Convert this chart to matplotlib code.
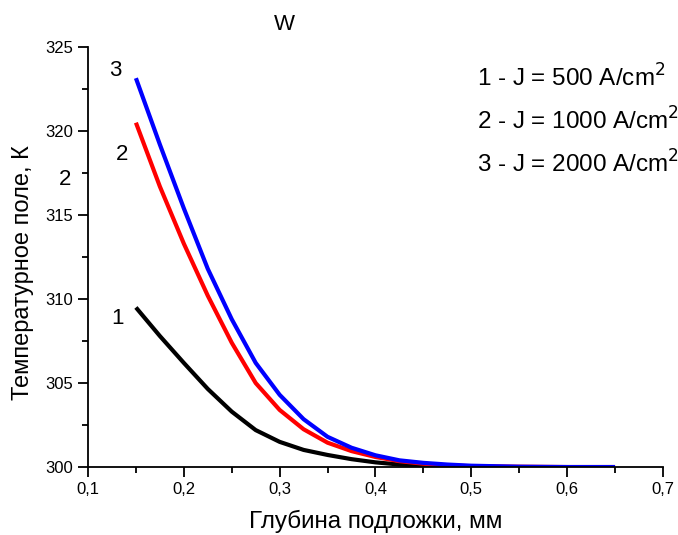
import matplotlib.pyplot as plt
from matplotlib.ticker import MultipleLocator, FuncFormatter

plt.rcParams['font.family'] = ['Liberation Sans', 'DejaVu Sans']

# depth, mm
depth = [0.15, 0.175, 0.2, 0.225, 0.25, 0.275, 0.3, 0.325, 0.35, 0.375, 0.4,
         0.425, 0.45, 0.475, 0.5, 0.55, 0.6, 0.65]
# temperature, K
t_500 = [309.5, 307.8, 306.2, 304.65, 303.3, 302.2, 301.5, 301.02, 300.72, 300.47,
         300.28, 300.15, 300.07, 300.03, 300.0, 300.0, 300.0, 300.0]
t_1000 = [320.5, 316.7, 313.3, 310.2, 307.4, 305.0, 303.4, 302.25, 301.45, 300.95,
          300.6, 300.35, 300.2, 300.1, 300.05, 300.02, 300.0, 300.0]
t_2000 = [323.15, 319.2, 315.4, 311.8, 308.8, 306.2, 304.3, 302.85, 301.8, 301.15,
          300.7, 300.4, 300.25, 300.15, 300.08, 300.02, 300.0, 300.0]

legend_lines = ['1 - J = 500 A/cm$^2$', '2 - J = 1000 A/cm$^2$', '3 - J = 2000 A/cm$^2$']

fig = plt.figure(figsize=(6.78, 5.35), dpi=100)
ax = fig.add_axes([0.1298, 0.127, 0.848, 0.785])

ax.plot(depth, t_500, color='black', lw=3, solid_joinstyle='round', solid_capstyle='butt')
ax.plot(depth, t_1000, color='#ff0000', lw=3, solid_joinstyle='round', solid_capstyle='butt')
ax.plot(depth, t_2000, color='#0000ff', lw=3, solid_joinstyle='round', solid_capstyle='butt')

ax.set_xlim(0.1, 0.7)
ax.set_ylim(300, 325)
ax.spines['top'].set_visible(False)
ax.spines['right'].set_visible(False)
for s in ['left', 'bottom']:
    ax.spines[s].set_linewidth(1.3)

ax.xaxis.set_major_locator(MultipleLocator(0.1))
ax.xaxis.set_minor_locator(MultipleLocator(0.05))
ax.yaxis.set_major_locator(MultipleLocator(5))
ax.yaxis.set_minor_locator(MultipleLocator(2.5))
ax.xaxis.set_major_formatter(FuncFormatter(lambda v, p: ('%.1f' % v).replace('.', ',')))
ax.tick_params(which='major', direction='out', length=7, width=1.3, labelsize=12)
ax.tick_params(which='minor', direction='out', length=4, width=1.3)

ax.set_xlabel('Глубина подложки, мм', fontsize=17.5)
ax.xaxis.set_label_coords(0.5, -0.103)
ax.set_ylabel('Температурное поле, К', fontsize=17)
ax.yaxis.set_label_coords(-0.094, 0.462)

fig.text(0.42, 0.955, 'W', fontsize=16, ha='center', va='center')

# curve numbers
fig.text(0.170, 0.868, '3', fontsize=16, ha='center', va='center')
fig.text(0.180, 0.711, '2', fontsize=16, ha='center', va='center')
fig.text(0.173, 0.405, '1', fontsize=16, ha='center', va='center')
fig.text(0.096, 0.664, '2', fontsize=16, ha='center', va='center')

for i, txt in enumerate(legend_lines):
    fig.text(0.703, 0.855 - i * 0.081, txt, fontsize=17.5, ha='left', va='center')

fig.savefig('out.png', dpi=100)
